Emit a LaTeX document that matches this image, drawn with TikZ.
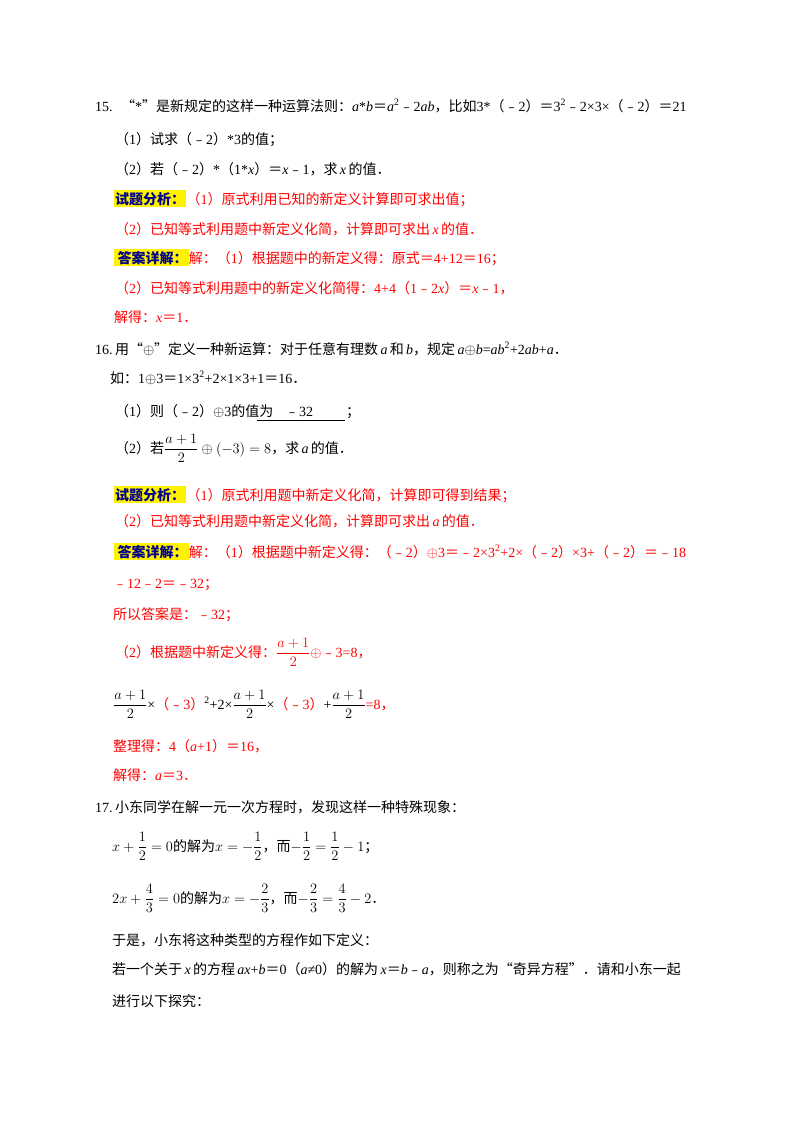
\documentclass[tikz,border=0pt]{standalone}
\usepackage{amsmath}
\usepackage{fontspec}
\setmainfont{Liberation Serif}
\newfontfamily\cjk{Noto Sans CJK SC}
\XeTeXinterchartokenstate=1
\newXeTeXintercharclass\cjkclass
\count255="4E00
\loop\XeTeXcharclass\count255=\cjkclass\ifnum\count255<"9FFF\advance\count255 1\repeat
\count255="FF00
\loop\XeTeXcharclass\count255=\cjkclass\ifnum\count255<"FFEF\advance\count255 1\repeat
\count255="3000
\loop\XeTeXcharclass\count255=\cjkclass\ifnum\count255<"303F\advance\count255 1\repeat
\count255="FE30
\loop\XeTeXcharclass\count255=\cjkclass\ifnum\count255<"FE6F\advance\count255 1\repeat
\XeTeXcharclass"201C=\cjkclass
\XeTeXcharclass"201D=\cjkclass
\XeTeXinterchartoks 0 \cjkclass={\cjk}
\XeTeXinterchartoks 4095 \cjkclass={\cjk}
\XeTeXinterchartoks \cjkclass 0={\rmfamily}
\newcommand\vi[1]{{\rmfamily\itshape #1}}
\newcommand\vr[1]{{\rmfamily #1}}
\definecolor{rd}{RGB}{255,0,0}
\definecolor{hb}{RGB}{0,0,140}
\tikzset{t/.style={anchor=base west,inner sep=0pt,font=\fontsize{14}{17}\selectfont},
 r/.style={t,text=rd},
 hl/.style={t,fill=yellow,inner xsep=1pt,inner ysep=2pt,text=hb,font=\fontsize{14}{17}\selectfont\bfseries}}
\begin{document}
\begin{tikzpicture}[x=1pt,y=-1pt]
\useasboundingbox (0,0) rectangle (800,1132);
\fill[white] (0,0) rectangle (800,1132);
% 15
\node[t] (a1) at (95,111) {15.\hspace{0.6em}“*”是新规定的这样一种运算法则：\vi{a}\vr{*}\vi{b}＝\vi{a}\vr{\textsuperscript{2}}﹣\vr{2}\vi{ab}，比如\vr{3*}（﹣\vr{2}）＝\vr{3\textsuperscript{2}}﹣\vr{2×3×}（﹣\vr{2}）＝\vr{21}};
\node[t] (a2) at (115,144) {（\vr{1}）试求（﹣\vr{2}）\vr{*3}的值；};
\node[t] (a3) at (115,174) {（\vr{2}）若（﹣\vr{2}）\vr{*}（\vr{1*}\vi{x}）＝\vi{x}﹣\vr{1}，求\,\vi{x}\,的值．};
\node[hl] (a4) at (114,204) {试题分析：};
\node[r] (a4b) at (a4.base east) {（\vr{1}）原式利用已知的新定义计算即可求出值；};
\node[r] (a5) at (115,234) {（\vr{2}）已知等式利用题中新定义化简，计算即可求出\,\vi{x}\,的值．};
\node[hl] (a6) at (114,263) {\,答案详解：};
\node[r] (a6b) at (a6.base east) {解：（\vr{1}）根据题中的新定义得：原式＝\vr{4+12}＝\vr{16}；};
\node[r] (a7) at (115,293) {（\vr{2}）已知等式利用题中的新定义化简得：\vr{4+4}（\vr{1}﹣\vr{2}\vi{x}）＝\vi{x}﹣\vr{1}，};
\node[r] (a8) at (114,322) {解得：\vi{x}＝\vr{1}．};
% 16
\node[t] (b1) at (95,354) {16.\,用“$\oplus$”定义一种新运算：对于任意有理数\,\vi{a}\,和\,\vi{b}，规定\,\vi{a}$\oplus$\vi{b}\vr{=}\vi{ab}\vr{\textsuperscript{2}+2}\vi{ab}\vr{+}\vi{a}．};
\node[t] (b2) at (110,383) {如：\vr{1}$\oplus$\vr{3}＝\vr{1×3\textsuperscript{2}+2×1×3+1}＝\vr{16}．};
\node[t] (b3) at (115,416) {（\vr{1}）则（﹣\vr{2}）$\oplus$\vr{3}的值为};
\node[t] (b3v) at (285,416) {﹣\vr{32}};
\node[t] (b3e) at (346,416) {；};
\draw[line width=0.6pt] (257,420) -- (345,420);
\node[t] (b4) at (115,453) {（\vr{2}）若$\dfrac{a+1}{2}\oplus\left(-3\right)=8$，求\,\vi{a}\,的值．};
\node[hl] (b5) at (114,500) {试题分析：};
\node[r] (b5b) at (b5.base east) {（\vr{1}）原式利用题中新定义化简，计算即可得到结果；};
\node[r] (b6) at (115,526) {（\vr{2}）已知等式利用题中新定义化简，计算即可求出\,\vi{a}\,的值．};
\node[hl] (b7) at (114,557) {\,答案详解：};
\node[r] (b7b) at (b7.base east) {解：（\vr{1}）根据题中新定义得：（﹣\vr{2}）$\oplus$\vr{3}＝﹣\vr{2×3\textsuperscript{2}+2×}（﹣\vr{2}）\vr{×3+}（﹣\vr{2}）＝﹣\vr{18}};
\node[r] (b8) at (113,588) {﹣\vr{12}﹣\vr{2}＝﹣\vr{32}；};
\node[r] (b9) at (113,619) {所以答案是：﹣\vr{32}；};
\node[r] (b10) at (115,657) {（\vr{2}）根据题中新定义得：$\dfrac{a+1}{2}\oplus$﹣\vr{3=8}，};
\node[t] (b11) at (113,709) {$\dfrac{a+1}{2}$\vr{×}\textcolor{rd}{（﹣\vr{3}）}\vr{\textsuperscript{2}+2×}$\dfrac{a+1}{2}$\vr{×}\textcolor{rd}{（﹣\vr{3}）}\vr{+}$\dfrac{a+1}{2}$\textcolor{rd}{\vr{=8}，}};
\node[r] (b12) at (113,751) {整理得：\vr{4}（\vi{a}\vr{+1}）＝\vr{16}，};
\node[r] (b13) at (113,780) {解得：\vi{a}＝\vr{3}．};
% 17
\node[t] (c1) at (95,812) {17.\,小东同学在解一元一次方程时，发现这样一种特殊现象：};
\node[t] (c2) at (112,851) {$x+\dfrac{1}{2}=0$的解为$x=-\dfrac{1}{2}$，而$-\dfrac{1}{2}=\dfrac{1}{2}-1$；};
\node[t] (c3) at (112,903) {$2x+\dfrac{4}{3}=0$的解为$x=-\dfrac{2}{3}$，而$-\dfrac{2}{3}=\dfrac{4}{3}-2$．};
\node[t] (c4) at (112,945) {于是，小东将这种类型的方程作如下定义：};
\node[t] (c5) at (112,974) {若一个关于\,\vi{x}\,的方程\,\vi{ax}\vr{+}\vi{b}＝\vr{0}（\vi{a}\vr{≠0}）的解为\,\vi{x}＝\vi{b}﹣\vi{a}，则称之为“奇异方程”．请和小东一起};
\node[t] (c6) at (112,1006) {进行以下探究：};
\end{tikzpicture}
\end{document}
